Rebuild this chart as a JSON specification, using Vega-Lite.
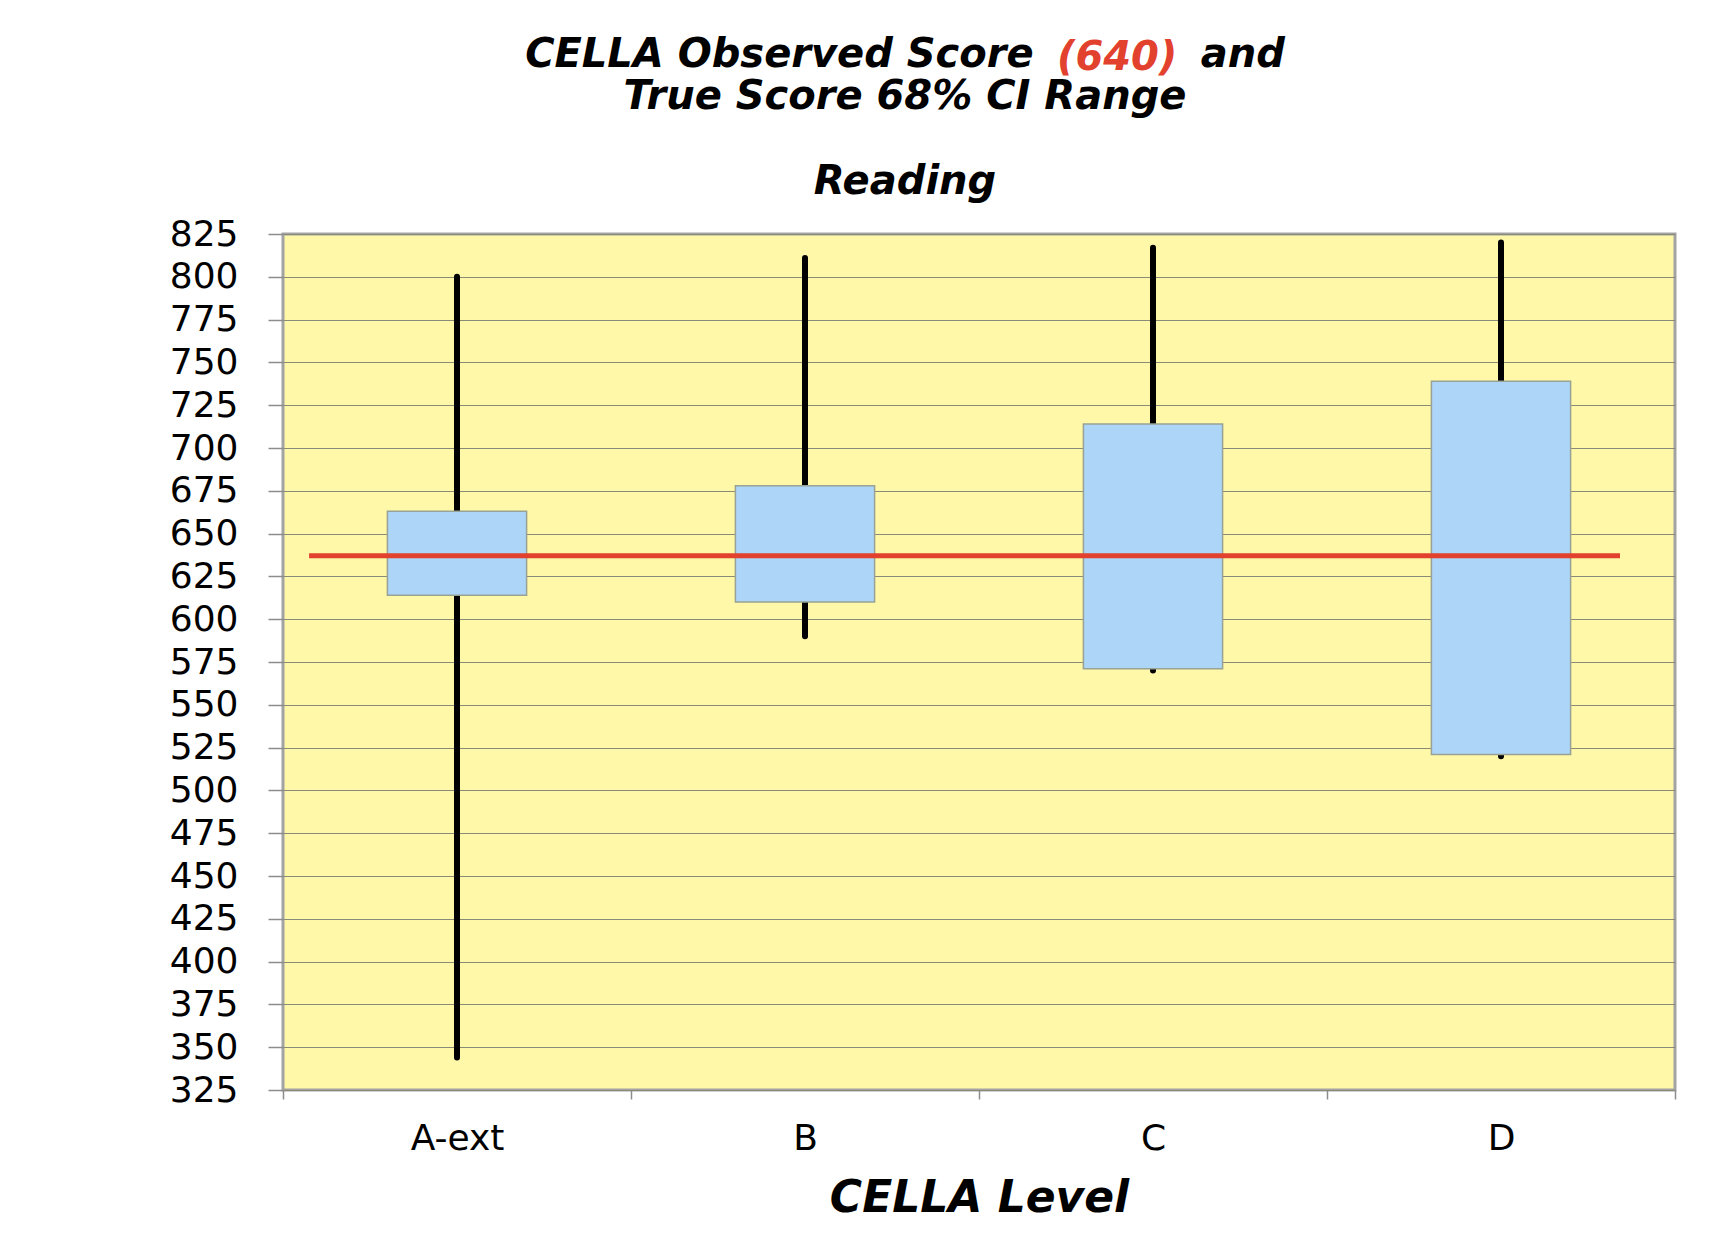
{
  "$schema": "https://vega.github.io/schema/vega-lite/v6.json",
  "width": 1392,
  "height": 856,
  "autosize": "none",
  "padding": {"left": 283, "top": 234, "right": 34, "bottom": 158},
  "background": "white",
  "title": {
    "text": ["CELLA Observed Score\u00a0\u00a0\u00a0\u00a0\u00a0\u00a0\u00a0\u00a0\u00a0\u00a0\u00a0\u00a0and", "True Score 68% CI Range"],
    "subtitle": "Reading",
    "font": "DejaVu Sans",
    "fontSize": 40,
    "fontWeight": "bold",
    "fontStyle": "italic",
    "color": "black",
    "lineHeight": 42,
    "subtitleFont": "DejaVu Sans",
    "subtitleFontSize": 40,
    "subtitleFontWeight": "bold",
    "subtitleFontStyle": "italic",
    "subtitleColor": "black",
    "subtitleLineHeight": 42,
    "subtitlePadding": 45,
    "anchor": "middle",
    "dx": -74,
    "offset": -164
  },
  "config": {
    "view": {"fill": "#fff8a8", "stroke": "#a3a3a3", "strokeWidth": 3},
    "axis": {"labelFont": "DejaVu Sans", "labelColor": "black", "titleFont": "DejaVu Sans", "titleColor": "black"}
  },
  "layer": [
    {
      "data": {"values": [
        {"level": "A-ext", "low": 344, "high": 800, "boxLow": 614, "boxHigh": 663},
        {"level": "B", "low": 590, "high": 811, "boxLow": 610, "boxHigh": 678},
        {"level": "C", "low": 570, "high": 817, "boxLow": 571, "boxHigh": 714},
        {"level": "D", "low": 520, "high": 820, "boxLow": 521, "boxHigh": 739}
      ]},
      "layer": [
        {
          "mark": {"type": "rule", "strokeWidth": 6, "strokeCap": "round", "color": "black"},
          "encoding": {
            "x": {
              "field": "level", "type": "nominal",
              "scale": {"domain": ["A-ext", "B", "C", "D"], "paddingInner": 0, "paddingOuter": 0},
              "axis": {
                "tickBand": "extent", "tickSize": 9, "tickColor": "#8c8c8c", "tickWidth": 1.5,
                "labelAngle": 0, "labelFontSize": 36, "labelPadding": 22,
                "domain": false, "grid": false,
                "title": "CELLA Level", "titleFontSize": 44, "titleFontWeight": "bold", "titleFontStyle": "italic", "titlePadding": 20
              }
            },
            "y": {
              "field": "low", "type": "quantitative",
              "scale": {"domain": [325, 825], "nice": false, "zero": false},
              "axis": {
                "values": [325, 350, 375, 400, 425, 450, 475, 500, 525, 550, 575, 600, 625, 650, 675, 700, 725, 750, 775, 800, 825],
                "labelFontSize": 36, "labelPadding": 30, "tickSize": 15, "tickColor": "#8c8c8c", "tickWidth": 1.5,
                "domain": false, "grid": true, "gridColor": "#8a8a78", "gridWidth": 1.2, "title": null
              }
            },
            "y2": {"field": "high"}
          }
        },
        {
          "mark": {"type": "bar", "width": {"band": 0.4}, "fill": "#acd5f7", "stroke": "#98a295", "strokeWidth": 1.5},
          "encoding": {
            "x": {"field": "level", "type": "nominal"},
            "y": {"field": "boxLow", "type": "quantitative"},
            "y2": {"field": "boxHigh"}
          }
        }
      ]
    },
    {
      "data": {"values": [{"observed": 637}]},
      "mark": {"type": "rule", "color": "#e2412d", "strokeWidth": 5},
      "encoding": {
        "x": {"datum": "A-ext", "bandPosition": 0.075},
        "x2": {"datum": "D", "bandPosition": 0.842},
        "y": {"field": "observed", "type": "quantitative"}
      }
    },
    {
      "data": {"values": [{"label": "(640)"}]},
      "mark": {"type": "text", "color": "#e2412d", "font": "DejaVu Sans", "fontSize": 40, "fontWeight": "bold", "fontStyle": "italic", "baseline": "middle", "align": "center"},
      "encoding": {
        "x": {"datum": "C", "bandPosition": 0.397},
        "y": {"datum": 928},
        "text": {"field": "label"}
      }
    }
  ]
}
